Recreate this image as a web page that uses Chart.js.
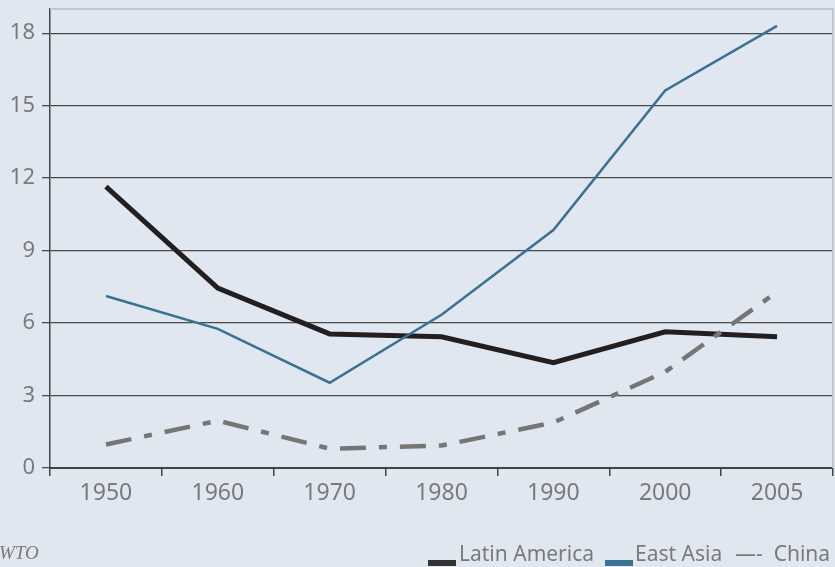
<!DOCTYPE html>
<html>
<head>
<meta charset="utf-8">
<script src="https://cdn.jsdelivr.net/npm/chart.js@4/dist/chart.umd.min.js"></script>
<style>
html,body{margin:0;padding:0;background:#e1e7f0;}
#wrap{position:relative;width:835px;height:567px;overflow:hidden;background:#e1e7f0;}
#c{position:absolute;left:0;top:0;}
.t{position:absolute;font-family:"Noto Sans",sans-serif;font-size:21px;color:#7a7a7a;white-space:nowrap;line-height:1;}
.box{position:absolute;height:6px;width:28px;}
#src{position:absolute;left:-1px;top:543px;font-family:"Liberation Serif",serif;font-style:italic;font-size:19px;color:#7a7a7a;line-height:1;white-space:nowrap;}
</style>
</head>
<body>
<div id="wrap">
<canvas id="c" width="835" height="567"></canvas>
<div id="src">WTO</div>
<div class="box" style="left:428px;top:560px;background:#333333;"></div>
<div class="t" style="left:459px;top:543px;">Latin America</div>
<div class="box" style="left:605px;top:560px;background:#3b7191;"></div>
<div class="t" style="left:635px;top:543px;">East Asia</div>
<div class="t" style="left:735px;top:543px;">—-&nbsp; China</div>
</div>
<script>
const years = ['1950','1960','1970','1980','1990','2000','2005'];
const latinAmerica = [11.65, 7.45, 5.55, 5.43, 4.36, 5.64, 5.43];
const eastAsia = [7.12, 5.76, 3.53, 6.34, 9.85, 15.63, 18.3];
const china = [0.97, 1.96, 0.80, 0.93, 1.88, 3.98, 7.29];
const yTicks = [0, 3, 6, 9, 12, 15, 18];

const frame = {
  id: 'frame',
  afterDraw(chart) {
    const a = chart.chartArea, ctx = chart.ctx;
    ctx.save();
    ctx.strokeStyle = '#c3c7cc';
    ctx.lineWidth = 2;
    ctx.beginPath();
    ctx.moveTo(a.left, a.top);
    ctx.lineTo(a.right, a.top);
    ctx.lineTo(a.right, a.bottom);
    ctx.stroke();
    ctx.restore();
  }
};

new Chart(document.getElementById('c'), {
  type: 'line',
  data: {
    labels: years,
    datasets: [
      { label: 'Latin America', data: latinAmerica, borderColor: '#231f20', borderWidth: 5, order: 3 },
      { label: 'East Asia', data: eastAsia, borderColor: '#3b7191', borderWidth: 2.5, order: 2 },
      { label: 'China', data: china, borderColor: '#767676', borderWidth: 4.5, borderDash: [26, 13, 8, 13], order: 1 }
    ]
  },
  options: {
    responsive: false,
    animation: false,
    events: [],
    layout: { padding: { top: 9, right: 2, left: 0, bottom: 0 } },
    elements: { point: { radius: 0 }, line: { tension: 0, fill: false, borderCapStyle: 'butt', borderJoinStyle: 'miter' } },
    plugins: { legend: { display: false }, tooltip: { enabled: false } },
    scales: {
      x: {
        type: 'category',
        offset: true,
        grid: { offset: true, drawOnChartArea: false, drawTicks: true, tickLength: 8, color: '#444', lineWidth: 1.5 },
        border: { display: true, color: '#444', width: 2 },
        ticks: { color: '#7a7a7a', font: { family: 'Noto Sans', size: 23 }, padding: 4, maxRotation: 0 },
        afterFit(s) { s.height = 99; s.paddingLeft = 0; s.paddingRight = 0; }
      },
      y: {
        min: 0,
        max: 19,
        afterBuildTicks(s) { s.ticks = yTicks.map(v => ({ value: v })); },
        grid: { color: '#4a4a4a', lineWidth: 1.3, tickLength: 8, drawTicks: true },
        border: { display: true, color: '#444', width: 1.5 },
        ticks: { color: '#7a7a7a', font: { family: 'Noto Sans', size: 22 }, padding: 7 },
        afterFit(s) { s.width = 50; s.paddingTop = 0; s.paddingBottom = 0; }
      }
    }
  },
  plugins: [frame]
});
</script>
</body>
</html>
